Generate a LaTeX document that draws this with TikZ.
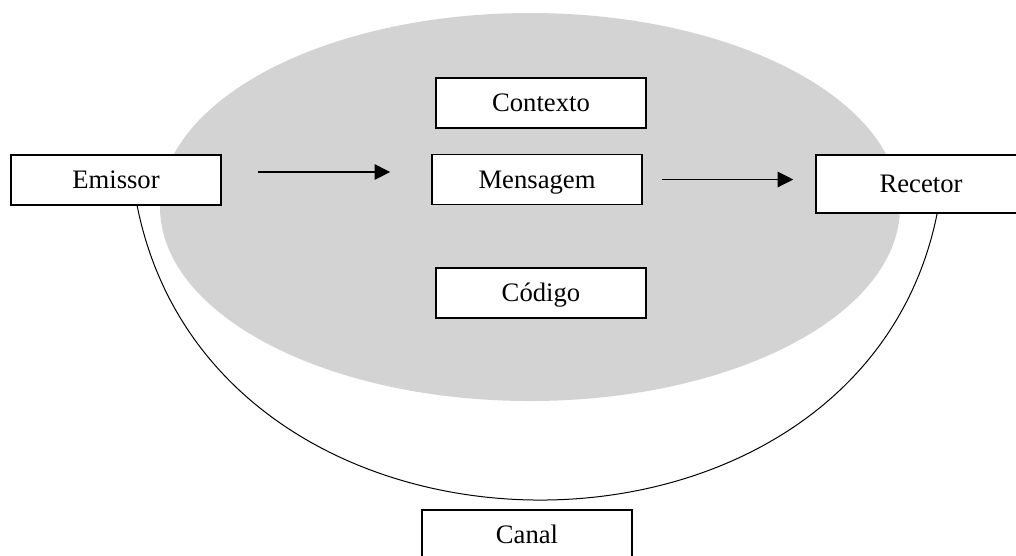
\documentclass[tikz,border=0pt]{standalone}
\usepackage{fontspec}
\setmainfont{Liberation Serif}
\usetikzlibrary{arrows.meta,calc}
\definecolor{ovalgray}{RGB}{211,211,211}
\begin{document}
\begin{tikzpicture}[x=0.45pt, y=-0.45pt, font=\fontsize{12}{14}\selectfont,
    box/.style={draw, line width=0.7pt, fill=white, minimum width=94.5pt, minimum height=22.5pt, inner sep=0pt, text height=9pt, text depth=1.1pt},
    flow/.style={-{Triangle[length=7pt, width=7pt]}, line width=0.5pt}]
    \useasboundingbox (0,0) rectangle (1016,555);
    \fill[ovalgray] (530,207) ellipse [x radius=370, y radius=194];

    \node[box] (emissor) at (116,180) {Emissor};
    \node[box] (contexto) at (541,103) {Contexto};
    \node[box] (mensagem) at (537,179.5) {Mensagem};
    \node[box] (codigo) at (541,293) {Código};
    \node[box, minimum height=26.1pt] (recetor) at (921,184) {Recetor};
    \node[box] (canal) at (527,535) {Canal};

    \draw[flow, shorten <=16.2pt, shorten >=18.5pt] ([yshift=3.6pt]emissor.east) -- ([yshift=3.6pt]emissor.east -| mensagem.west);
    \draw[flow, shorten <=8.6pt, shorten >=9.9pt] (mensagem.east) -- (mensagem.east -| recetor.west);

    \draw[line width=0.45pt] ($(emissor.south west)!0.6!(emissor.south east)$) .. controls +(78,391) and +(-77,383) .. ($(recetor.south west)!0.576!(recetor.south east)$);
\end{tikzpicture}
\end{document}
